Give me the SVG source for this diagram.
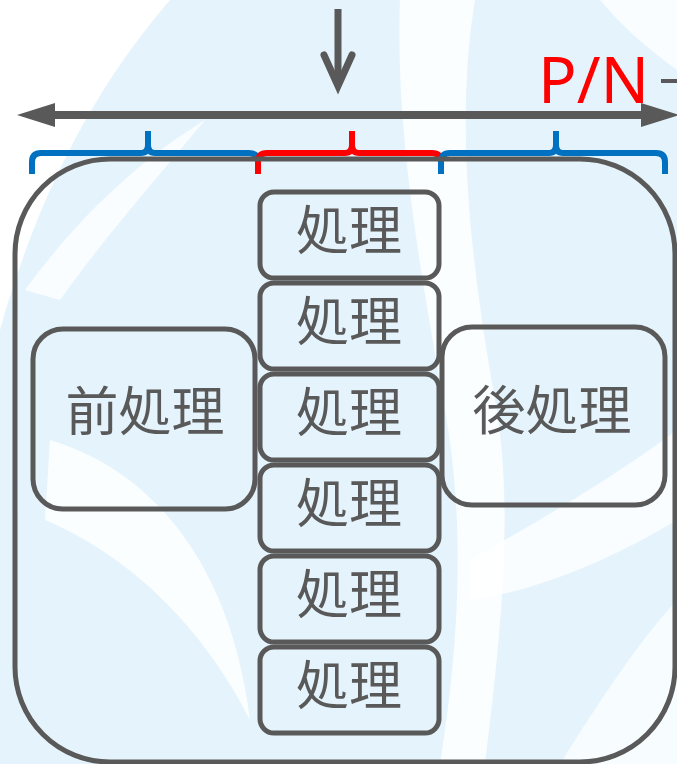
<svg xmlns="http://www.w3.org/2000/svg" width="677" height="764" viewBox="0 0 677 764">
<style>
.box{fill:none;stroke:#595959;stroke-width:5}
.lbl{font-family:"Noto Sans CJK JP","Noto Sans",sans-serif;font-size:53px;fill:#595959;text-anchor:middle}
.brace{fill:none;stroke-width:6;stroke-linejoin:round}
.wm{fill:#ffffff}
</style>
<defs>
<marker id="tri" viewBox="0 0 38 24" refX="2" refY="12" markerWidth="38" markerHeight="24" markerUnits="userSpaceOnUse" orient="auto-start-reverse">
<path d="M0,0 L38,12 L0,24 Z" fill="#595959"/>
</marker>
</defs>
<g id="background">
<rect x="0" y="0" width="677" height="764" fill="#e5f4fc"/>
<path class="wm" d="M0,0 H170 C110,70 45,170 0,330 Z"/>
<path class="wm" d="M25,290 C80,215 140,160 205,120 C160,175 110,230 60,300 Z" opacity="0.8"/>
<path class="wm" d="M400,0 H475 C455,120 470,260 495,400 C515,510 500,640 485,764 H440 C460,640 465,520 445,410 C420,270 395,130 400,0 Z" opacity="0.85"/>
<path class="wm" d="M600,0 H677 V70 C650,50 625,30 600,0 Z" opacity="0.8"/>
<path class="wm" d="M50,440 C150,470 230,560 250,720 C210,640 140,560 45,520 Z" opacity="0.85"/>
<path class="wm" d="M470,560 C540,520 610,480 677,430 V520 C610,560 540,590 470,600 Z" opacity="0.8"/>
<path class="wm" d="M560,764 C600,700 640,640 677,600 V764 Z" opacity="0.7"/>
</g>
<g id="connectors">
<line x1="338" y1="9" x2="338" y2="84" stroke="#595959" stroke-width="7"/>
<path d="M324,55 L338,86 L352,55" fill="none" stroke="#595959" stroke-width="7" stroke-linecap="round" stroke-linejoin="miter"/>
<line x1="53" y1="115" x2="643" y2="115" stroke="#595959" stroke-width="8" marker-start="url(#tri)" marker-end="url(#tri)"/>
</g>
<g id="pn-label">
<text x="538" y="103" font-family="Noto Sans, sans-serif" font-size="64" fill="#ff0000">P/N</text>
<line x1="661" y1="81" x2="677" y2="81" stroke="#595959" stroke-width="4"/>
</g>
<g id="braces">
<path class="brace" stroke="#0070c0" d="M32,174 V162 Q32,153 41,153 H141 Q148,153 148,145 V131 M148,145 Q148,153 155,153 H249 Q258,153 258,162 V174"/>
<path class="brace" stroke="#ff0000" d="M258,174 V162 Q258,153 267,153 H345 Q352,153 352,145 V131 M352,145 Q352,153 359,153 H432 Q441,153 441,162 V174"/>
<path class="brace" stroke="#0070c0" d="M441,174 V162 Q441,153 450,153 H549 Q556,153 556,145 V131 M556,145 Q556,153 563,153 H656 Q665,153 665,162 V174"/>
</g>
<g id="outer">
<rect class="box" x="15" y="159" width="660" height="603" rx="95" ry="95"/>
</g>
<g id="pre">
<rect class="box" x="33" y="329" width="222" height="180" rx="30" ry="30"/>
<text class="lbl" x="145" y="431">前処理</text>
</g>
<g id="post">
<rect class="box" x="442" y="327" width="223" height="178" rx="30" ry="30"/>
<text class="lbl" x="552" y="430">後処理</text>
</g>
<g id="proc1"><rect class="box" x="260" y="192" width="179" height="86" rx="14" ry="14"/><text class="lbl" x="349" y="250">処理</text></g>
<g id="proc2"><rect class="box" x="260" y="283" width="179" height="86" rx="14" ry="14"/><text class="lbl" x="349" y="341">処理</text></g>
<g id="proc3"><rect class="box" x="260" y="374" width="179" height="86" rx="14" ry="14"/><text class="lbl" x="349" y="432">処理</text></g>
<g id="proc4"><rect class="box" x="260" y="465" width="179" height="86" rx="14" ry="14"/><text class="lbl" x="349" y="523">処理</text></g>
<g id="proc5"><rect class="box" x="260" y="556" width="179" height="86" rx="14" ry="14"/><text class="lbl" x="349" y="614">処理</text></g>
<g id="proc6"><rect class="box" x="260" y="647" width="179" height="86" rx="14" ry="14"/><text class="lbl" x="349" y="705">処理</text></g>
</svg>
